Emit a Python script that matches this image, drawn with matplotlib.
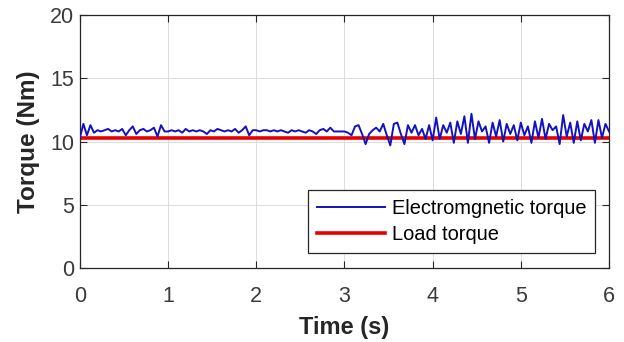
import numpy as np
import matplotlib
matplotlib.use('Agg')
import matplotlib.pyplot as plt

plt.rcParams['font.family'] = ['Liberation Sans', 'DejaVu Sans']

# Electromagnetic torque samples (Nm), every 0.04 s
te_0_1 = [10.3, 11.4, 10.5, 11.3, 10.7, 10.9, 10.8, 10.9, 11.0, 10.8, 10.9, 10.8, 11.0,
          10.5, 10.9, 11.2, 10.6, 10.9, 11.0, 10.8, 10.9, 11.1, 10.4, 11.3, 10.8]
te_1_2 = [10.8, 10.9, 10.8, 10.9, 10.7, 11.0, 10.8, 10.9, 10.8, 10.9, 10.8, 10.6, 10.9,
          10.8, 11.0, 10.9, 10.8, 10.9, 10.8, 11.0, 10.7, 10.9, 11.2, 10.5, 10.9]
te_2_3 = [10.9, 10.8, 10.9, 10.9, 10.8, 10.9, 10.8, 10.9, 10.8, 10.7, 10.9, 10.8, 10.9,
          10.8, 10.7, 10.9, 10.8, 10.6, 10.9, 11.0, 10.8, 11.1, 10.8, 10.8, 10.8]
te_3_4 = [10.8, 10.7, 10.5, 11.2, 11.3, 10.6, 9.8, 10.6, 10.9, 11.1, 10.8, 11.4, 10.5,
          9.7, 11.4, 11.5, 10.6, 9.8, 11.3, 10.7, 11.3, 10.5, 11.0, 10.2, 11.3]
te_4_5 = [10.1, 11.9, 10.2, 11.3, 10.7, 11.5, 9.9, 11.6, 10.6, 12.0, 9.9, 12.2, 10.2,
          11.6, 10.8, 11.2, 9.9, 11.5, 10.4, 11.7, 10.0, 11.4, 10.6, 11.3, 10.1]
te_5_6 = [11.5, 10.5, 11.2, 9.9, 11.6, 10.3, 11.8, 10.2, 11.4, 10.9, 11.2, 9.8, 12.1,
          10.4, 11.5, 9.9, 11.6, 10.1, 11.4, 10.8, 11.7, 9.9, 11.7, 10.3, 11.4, 10.8]

te = te_0_1 + te_1_2 + te_2_3 + te_3_4 + te_4_5 + te_5_6
time = np.linspace(0, 6, len(te))

load_torque = 10.3

fig = plt.figure(figsize=(6.24, 3.42), dpi=100)
ax = fig.add_axes([0.128, 0.216, 0.848, 0.740])

ax.plot(time, te, color='#1212c0', linewidth=1.4, label='Electromgnetic torque', zorder=3)
ax.plot([0, 6], [load_torque, load_torque], color='#e80000', linewidth=2.6,
        label='Load torque', zorder=2)

ax.set_xlim(0, 6)
ax.set_ylim(0, 20)
ax.set_xticks(range(0, 7))
ax.set_yticks([0, 5, 10, 15, 20])
ax.tick_params(direction='in', top=True, right=True, labelsize=15.5, colors='#262626',
               labelcolor='#3a3a3a', length=5, width=0.8)
ax.tick_params(axis='x', pad=13)
ax.tick_params(axis='y', pad=4)
for s in ax.spines.values():
    s.set_color('#262626')
    s.set_linewidth(0.9)
ax.grid(True, color='#dcdcdc', linewidth=0.7)
ax.set_axisbelow(True)

ax.set_xlabel('Time (s)', fontsize=17, fontweight='bold', color='#262626', labelpad=6)
ax.set_ylabel('Torque (Nm)', fontsize=17.5, fontweight='bold', color='#262626', labelpad=7)

leg = ax.legend(loc='lower right', bbox_to_anchor=(0.974, 0.058), fontsize=14.4,
                handlelength=3.4, handletextpad=0.35, fancybox=False, framealpha=1,
                edgecolor='#262626', borderpad=0.45, labelspacing=0.35, borderaxespad=0)
leg.get_frame().set_linewidth(0.9)

plt.savefig('out.png', dpi=100)
